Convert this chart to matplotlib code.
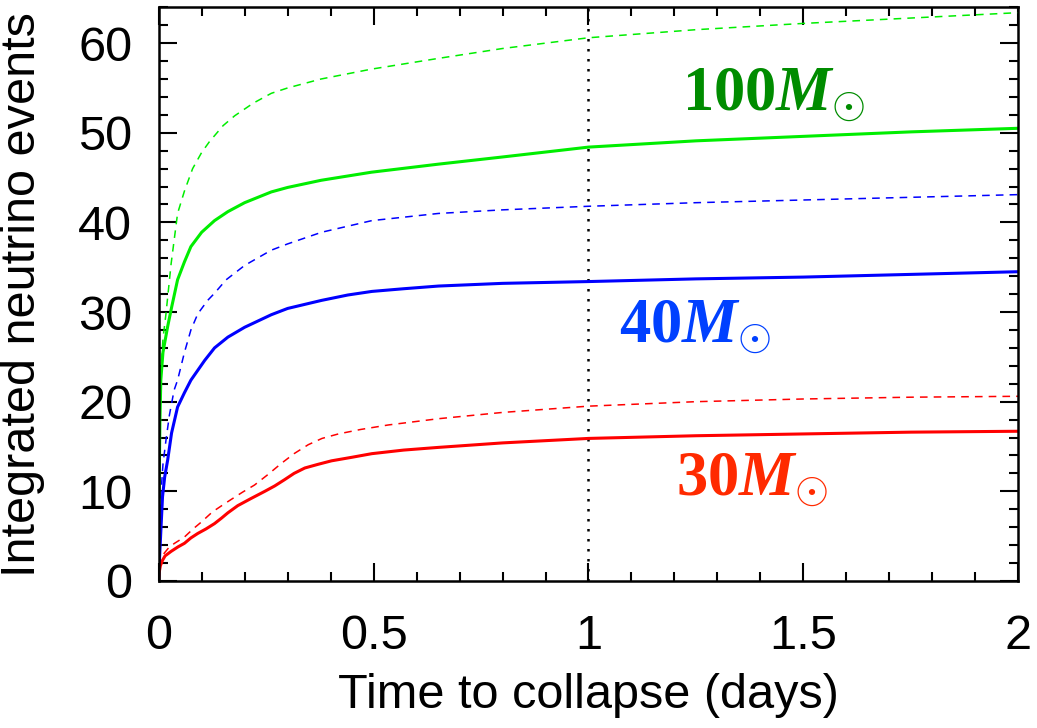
import numpy as np
import matplotlib.pyplot as plt
from matplotlib.ticker import MultipleLocator

plt.rcParams['font.family'] = ['Liberation Sans', 'DejaVu Sans']
plt.rcParams['mathtext.fontset'] = 'custom'
plt.rcParams['mathtext.rm'] = 'Liberation Serif:bold'
plt.rcParams['mathtext.it'] = 'Liberation Serif:bold:italic'
plt.rcParams['mathtext.bf'] = 'Liberation Serif:bold'

# 100 Msun
t100 = [0, 0.001, 0.003, 0.005, 0.01, 0.021, 0.03, 0.044, 0.06, 0.075, 0.1, 0.13,
        0.161, 0.2, 0.262, 0.3, 0.378, 0.495, 0.651, 0.8, 1.0, 1.25, 1.5, 1.75, 2.0]
n100 = [0, 10, 18, 22.4, 25.5, 28.4, 30.5, 33.6, 35.6, 37.3, 38.9, 40.2,
        41.2, 42.2, 43.4, 43.9, 44.7, 45.6, 46.5, 47.3, 48.4, 49.1, 49.6, 50.1, 50.5]
t100d = [0, 0.002, 0.005, 0.01, 0.017, 0.029, 0.044, 0.06, 0.079, 0.1, 0.118, 0.15,
         0.177, 0.22, 0.262, 0.3, 0.378, 0.495, 0.651, 0.8, 1.0, 1.25, 1.5, 1.75, 2.0]
n100d = [0, 14, 23.2, 27, 29.8, 35.4, 41.0, 43.5, 46.0, 47.8, 49.0, 50.8,
         51.9, 53.3, 54.4, 55.0, 56.0, 57.1, 58.3, 59.4, 60.6, 61.5, 62.2, 62.8, 63.4]

# 40 Msun
t40 = [0, 0.002, 0.005, 0.009, 0.014, 0.021, 0.03, 0.044, 0.06, 0.075, 0.107, 0.13,
       0.161, 0.2, 0.262, 0.3, 0.379, 0.44, 0.496, 0.57, 0.651, 0.8, 1.0, 1.25, 1.5,
       1.75, 2.0]
n40 = [0, 2.5, 5.5, 9.4, 11.6, 13.5, 16.5, 19.4, 21.0, 22.4, 24.6, 26.0,
       27.2, 28.3, 29.7, 30.4, 31.3, 31.9, 32.3, 32.6, 32.9, 33.2, 33.4, 33.7, 33.9,
       34.2, 34.5]
t40d = [0, 0.002, 0.005, 0.01, 0.017, 0.025, 0.036, 0.044, 0.06, 0.075, 0.091, 0.114,
        0.13, 0.157, 0.2, 0.262, 0.3, 0.379, 0.496, 0.651, 0.8, 1.0, 1.25, 1.5, 1.75, 2.0]
n40d = [0, 5, 9.5, 13.0, 15.7, 18.5, 21.3, 22.4, 25.5, 28.0, 29.8, 31.3,
        32.1, 33.6, 35.2, 36.9, 37.6, 38.9, 40.2, 41.0, 41.4, 41.8, 42.2, 42.5, 42.8, 43.1]

# 30 Msun
t30 = [0, 0.001, 0.004, 0.009, 0.015, 0.029, 0.045, 0.06, 0.075, 0.091, 0.11, 0.13,
       0.146, 0.161, 0.184, 0.215, 0.247, 0.27, 0.293, 0.315, 0.34, 0.37, 0.402, 0.45,
       0.496, 0.57, 0.651, 0.8, 1.0, 1.25, 1.5, 1.75, 2.0]
n30 = [0, 0.9, 1.7, 2.3, 2.8, 3.3, 3.8, 4.2, 4.8, 5.3, 5.8, 6.4,
       7.0, 7.6, 8.4, 9.2, 10.0, 10.6, 11.3, 12.0, 12.6, 13.0, 13.4, 13.8,
       14.2, 14.6, 14.9, 15.4, 15.9, 16.2, 16.4, 16.6, 16.7]
t30d = [0, 0.002, 0.006, 0.013, 0.025, 0.037, 0.06, 0.08, 0.1, 0.125, 0.153, 0.169,
        0.195, 0.223, 0.255, 0.285, 0.315, 0.348, 0.38, 0.418, 0.47, 0.534, 0.651,
        0.8, 1.0, 1.25, 1.5, 1.75, 2.0]
n30d = [0, 1.2, 2.2, 3.1, 3.8, 4.2, 4.9, 5.8, 6.6, 7.7, 8.6, 9.1,
        9.9, 10.7, 11.9, 13.1, 14.2, 15.2, 15.9, 16.4, 16.9, 17.4, 18.1,
        18.8, 19.5, 20.0, 20.3, 20.5, 20.6]

fig = plt.figure(figsize=(10.37, 7.28), dpi=100)
ax = fig.add_axes([0.153, 0.202, 0.829, 0.788])

ax.axvline(1, color='k', ls=(0, (1, 3)), lw=1.8)

ax.plot(t100d, n100d, color='#00ee00', lw=1.1, ls=(0, (5, 4)))
ax.plot(t40d, n40d, color='#0000ff', lw=1.1, ls=(0, (5, 4)))
ax.plot(t30d, n30d, color='#ff0000', lw=1.1, ls=(0, (5, 4)))
ax.plot(t100, n100, color='#00ee00', lw=2.2)
ax.plot(t40, n40, color='#0000ff', lw=2.2)
ax.plot(t30, n30, color='#ff0000', lw=2.2)

ax.text(1.218, 52.5, r'$100M_{\odot}$', color='#008c00', fontsize=45)
ax.text(1.071, 26.6, r'$40M_{\odot}$', color='#0040ff', fontsize=45)
ax.text(1.204, 9.6, r'$30M_{\odot}$', color='#ff2a00', fontsize=45)

ax.set_xlim(0, 2)
ax.set_ylim(0, 64)
ax.xaxis.set_major_locator(MultipleLocator(0.5))
ax.xaxis.set_minor_locator(MultipleLocator(0.1))
ax.yaxis.set_major_locator(MultipleLocator(10))
ax.yaxis.set_minor_locator(MultipleLocator(2))
ax.set_xticks([0, 0.5, 1, 1.5, 2])
ax.set_xticklabels(['0', '0.5', '1', '1.5', '2'])

ax.tick_params(which='both', direction='in', top=True, right=True, width=1.5)
ax.tick_params(which='major', length=13)
ax.tick_params(which='minor', length=6.5)
ax.tick_params(axis='x', labelsize=35, pad=24)
ax.tick_params(axis='y', labelsize=35, pad=19)
for s in ax.spines.values():
    s.set_linewidth(1.8)

ax.set_xlabel('Time to collapse (days)', fontsize=35, labelpad=10)
ax.set_ylabel('Integrated neutrino events', fontsize=35, labelpad=24)

plt.savefig('out.png', dpi=100)
